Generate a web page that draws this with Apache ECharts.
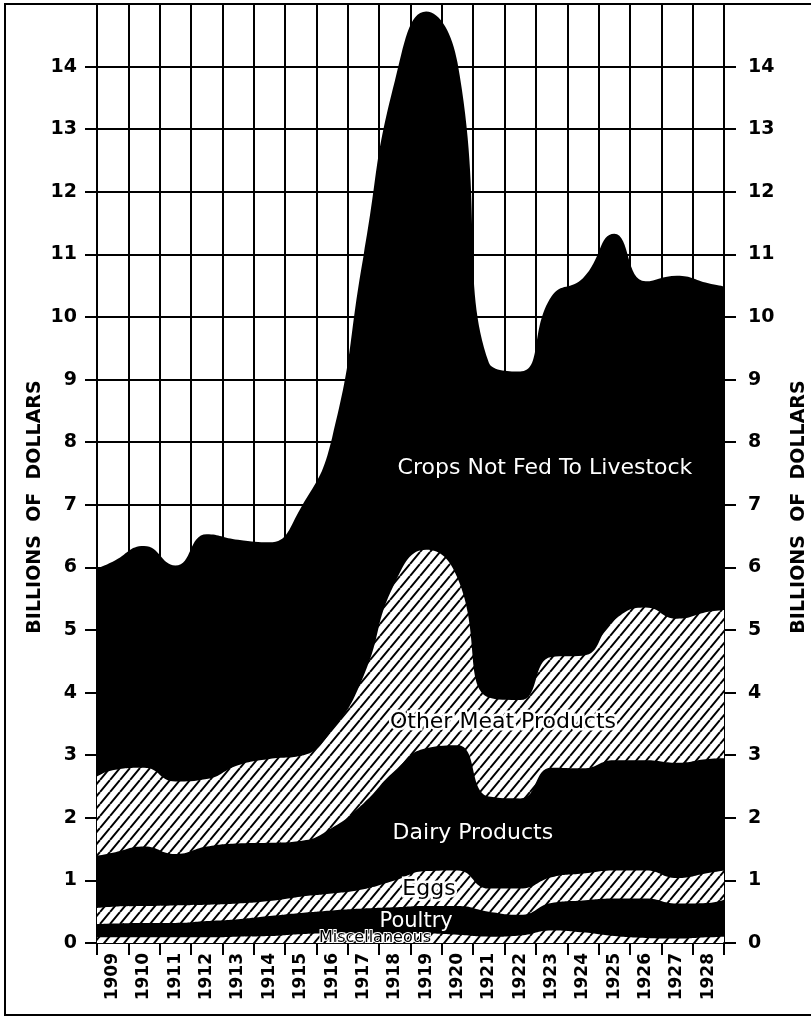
<!DOCTYPE html>
<html>
<head>
<meta charset="utf-8">
<script src="https://cdn.jsdelivr.net/npm/echarts@6/dist/echarts.min.js"></script>
<style>
  html, body { margin: 0; padding: 0; background: #fff; }
  #chart { width: 811px; height: 1020px; }
</style>
</head>
<body>
<div id="chart"></div>
<script>
// Year labels (one column per year)
const years = ['1909','1910','1911','1912','1913','1914','1915','1916','1917','1918',
               '1919','1920','1921','1922','1923','1924','1925','1926','1927','1928'];
// Horizontal positions of the read points: left chart edge, each year (column centre), right chart edge
const xPos = [1908.5, 1909, 1910, 1911, 1912, 1913, 1914, 1915, 1916, 1917, 1918,
              1919, 1920, 1921, 1922, 1923, 1924, 1925, 1926, 1927, 1928, 1928.5];

// Band thicknesses, billions of dollars (bottom to top)
const miscellaneous = [0.09,0.09,0.09,0.09,0.09,0.10,0.11,0.14,0.15,0.15,0.15,0.15,0.13,0.10,0.12,0.20,0.17,0.11,0.08,0.07,0.09,0.10];
const poultry       = [0.21,0.22,0.23,0.23,0.26,0.28,0.32,0.34,0.37,0.40,0.42,0.44,0.46,0.40,0.33,0.44,0.51,0.60,0.63,0.56,0.55,0.59];
const eggs          = [0.26,0.27,0.27,0.28,0.26,0.25,0.24,0.26,0.27,0.31,0.43,0.56,0.57,0.37,0.42,0.41,0.43,0.45,0.45,0.41,0.48,0.47];
const dairy         = [0.83,0.86,0.95,0.82,0.93,0.96,0.93,0.89,1.05,1.37,1.75,1.96,2.00,1.47,1.44,1.75,1.68,1.76,1.76,1.84,1.82,1.79];
const otherMeat     = [1.27,1.32,1.26,1.16,1.08,1.25,1.34,1.36,1.56,2.03,3.00,3.17,2.67,1.58,1.57,1.77,1.80,2.24,2.44,2.30,2.35,2.37];
const crops         = [3.32,3.33,3.54,3.45,3.91,3.60,3.46,3.96,4.67,6.71,8.02,8.60,8.23,5.35,5.25,5.76,6.03,6.17,5.21,5.48,5.25,5.17];

// Y axis range and step
const yMin = 0, yMax = 15, yStep = 1;

// In-chart band labels: [x, y, text]
const bandLabels = [
  [1922.79, 7.58, 'Crops Not Fed To Livestock'],
  [1921.45, 3.52, 'Other Meat Products'],
  [1920.49, 1.76, 'Dairy Products'],
  [1919.09, 0.86, 'Eggs'],
  [1918.68, 0.35, 'Poultry'],
  [1917.37, 0.08, 'Miscellaneous']
];

function makeHatch() {
  const w = 10, h = 12;
  const c = document.createElement('canvas');
  c.width = w; c.height = h;
  const g = c.getContext('2d');
  g.fillStyle = '#ffffff';
  g.fillRect(0, 0, w, h);
  g.strokeStyle = '#000000';
  g.lineWidth = 2;
  g.beginPath();
  [-w, 0, w].forEach(function (dx) { g.moveTo(dx, h); g.lineTo(dx + w, 0); });
  g.stroke();
  return c;
}
const hatch = { image: makeHatch(), repeat: 'repeat' };
const BLACK = '#000000';

// bands bottom -> top, with their fills
const bands = [
  ['Miscellaneous', miscellaneous, hatch],
  ['Poultry', poultry, BLACK],
  ['Eggs', eggs, hatch],
  ['Dairy Products', dairy, BLACK],
  ['Other Meat Products', otherMeat, hatch],
  ['Crops Not Fed To Livestock', crops, BLACK]
];

// cumulative tops of each band (the stacked boundaries)
const running = xPos.map(function () { return 0; });
const tops = bands.map(function (b) {
  return b[1].map(function (v, i) { running[i] += v; return +running[i].toFixed(3); });
});

// draw from the top band down so each lower band paints over the one above it
const areaSeries = bands.map(function (b, k) {
  return {
    name: b[0],
    type: 'line',
    xAxisIndex: 1,
    yAxisIndex: 0,
    smooth: 0.5,
    symbol: 'none',
    silent: true,
    lineStyle: { width: 0, color: 'rgba(0,0,0,0)' },
    areaStyle: { color: b[2], opacity: 1, origin: 'start' },
    data: tops[k].map(function (v, i) { return [xPos[i], v]; })
  };
}).reverse();

const labelFonts = [
  { font: 'normal 22px "DejaVu Sans"', fill: '#ffffff' },
  { font: 'normal 22px "DejaVu Sans"', fill: '#000000', halo: 5 },
  { font: 'normal 22px "DejaVu Sans"', fill: '#ffffff' },
  { font: 'normal 22px "DejaVu Sans"', fill: '#000000', halo: 5 },
  { font: 'normal 21px "DejaVu Sans"', fill: '#ffffff' },
  { font: 'normal 16px "DejaVu Sans"', fill: '#000000', halo: 2 }
];

const chart = echarts.init(document.getElementById('chart'), null, { renderer: 'canvas' });

const option = {
  animation: false,
  backgroundColor: '#ffffff',
  grid: { left: 97, right: 87, top: 4, bottom: 77, containLabel: false },
  xAxis: [
    {
      type: 'category',
      data: years,
      boundaryGap: true,
      position: 'bottom',
      axisLine: { show: true, lineStyle: { color: BLACK, width: 2 } },
      axisTick: { show: true, interval: 0, length: 12, lineStyle: { color: BLACK, width: 2 } },
      splitLine: { show: true, interval: 0, lineStyle: { color: BLACK, width: 2 } },
      axisLabel: {
        interval: 0, rotate: 90, margin: 10,
        color: BLACK, fontFamily: 'DejaVu Sans', fontWeight: 'bold', fontSize: 17
      }
    },
    {
      type: 'value',
      min: 1908.5,
      max: 1928.5,
      show: false
    }
  ],
  yAxis: [
    {
      type: 'value', position: 'left',
      min: yMin, max: yMax, interval: yStep,
      axisLine: { show: true, lineStyle: { color: BLACK, width: 2 } },
      axisTick: { show: true, length: 12, lineStyle: { color: BLACK, width: 2 } },
      splitLine: { show: true, lineStyle: { color: BLACK, width: 2 } },
      axisLabel: {
        margin: 20, color: BLACK, fontFamily: 'DejaVu Sans', fontWeight: 'bold', fontSize: 19,
        formatter: function (v) { return v === yMax ? '' : String(v); }
      }
    },
    {
      type: 'value', position: 'right',
      min: yMin, max: yMax, interval: yStep,
      axisLine: { show: true, lineStyle: { color: BLACK, width: 2 } },
      axisTick: { show: true, length: 12, lineStyle: { color: BLACK, width: 2 } },
      splitLine: { show: false },
      axisLabel: {
        margin: 24, color: BLACK, fontFamily: 'DejaVu Sans', fontWeight: 'bold', fontSize: 19,
        formatter: function (v) { return v === yMax ? '' : String(v); }
      }
    }
  ],
  series: areaSeries
};

chart.setOption(option);

// frame, axis titles and band labels (labels placed through the chart's own scales)
const graphics = [
  {
    type: 'rect', silent: true, z: 100,
    shape: { x: 5, y: 4, width: 810, height: 1011 },
    style: { fill: null, stroke: BLACK, lineWidth: 2 }
  },
  {
    type: 'text', silent: true, x: 35, y: 507, rotation: Math.PI / 2, z: 100,
    style: { text: 'BILLIONS  OF  DOLLARS', fill: BLACK, font: 'bold 19px "DejaVu Sans"', align: 'center', verticalAlign: 'middle' }
  },
  {
    type: 'text', silent: true, x: 799, y: 507, rotation: Math.PI / 2, z: 100,
    style: { text: 'BILLIONS  OF  DOLLARS', fill: BLACK, font: 'bold 19px "DejaVu Sans"', align: 'center', verticalAlign: 'middle' }
  }
];
bandLabels.forEach(function (d, i) {
  const p = chart.convertToPixel({ xAxisIndex: 1, yAxisIndex: 0 }, [d[0], d[1]]);
  const f = labelFonts[i];
  const style = { text: d[2], fill: f.fill, font: f.font, align: 'center', verticalAlign: 'middle' };
  if (f.halo) { style.stroke = '#ffffff'; style.lineWidth = f.halo; }
  graphics.push({ type: 'text', silent: true, x: p[0], y: p[1], z: 100, style: style });
});
chart.setOption({ graphic: graphics });
</script>
</body>
</html>
